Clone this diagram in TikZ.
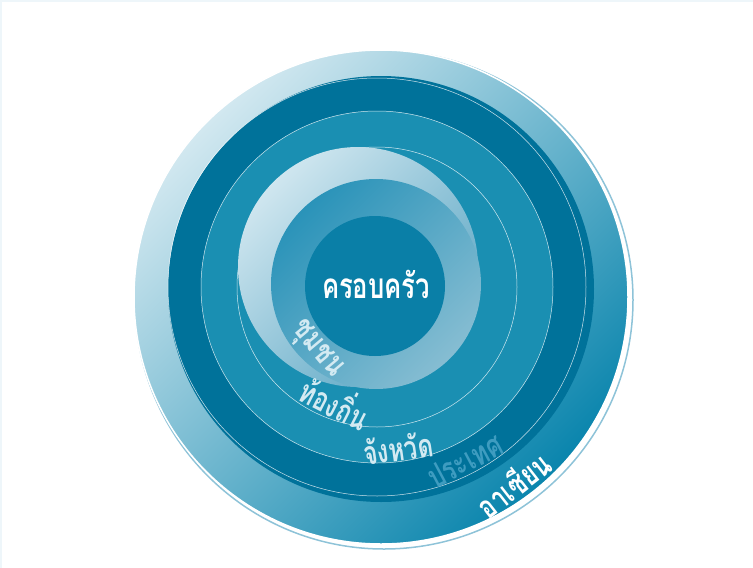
\documentclass[tikz,border=0pt]{standalone}
\usepackage{fontspec}
\newfontfamily\thaifont[Script=Thai]{Loma}

\definecolor{framepale}{HTML}{EEF6FA}
\definecolor{rimblue}{HTML}{8EC3D8}
\definecolor{bandlight}{HTML}{D2E8F0}
\definecolor{banddeep}{HTML}{0A85AD}
\definecolor{ringdark}{HTML}{00729A}
\definecolor{ringmid}{HTML}{1A8FB2}
\definecolor{ringcore}{HTML}{0A7FA7}
\definecolor{ringpale}{HTML}{CFE6EF}
\definecolor{ringsoft}{HTML}{5AA6C4}
\definecolor{diskmid}{HTML}{2A93B9}
\definecolor{disksoft}{HTML}{86BDD2}
\definecolor{labelpale}{HTML}{D3EAF2}
\definecolor{labelfaint}{HTML}{3E9CC0}

% taller Thai glyphs, as in the reference
\newcommand{\tallthai}[1]{\scalebox{0.95}[1.3]{#1}}

\tikzset{
  ringline/.style={draw=white, line width=0.5pt, draw opacity=0.8},
  ringlabel/.style={font=\thaifont\bfseries\fontsize{25}{25}\selectfont, text=#1, inner sep=0pt},
  diag/.style 2 args={top color=#1, bottom color=#2, shading angle=45},
}

\begin{document}
\begin{tikzpicture}[x=1pt,y=-1pt]
    \useasboundingbox (0,0) rectangle (753,568);

    % Faint frame at the top and left
    \draw[framepale, line width=2pt] (753,1) -- (1,1) -- (1,568);

    % Outer band with its rim
    \draw[rimblue, line width=1.5pt] (384,300) circle (249pt);
    \shade[draw=white, line width=1.5pt, diag={bandlight}{banddeep}] (381,297) circle (247pt);

    % Dark band
    \fill[ringdark] (381,289) circle (213pt);
    \draw[ringline] (377,287) circle (209pt);

    % Middle bands
    \filldraw[ringmid, ringline] (377,287) circle (176pt);
    \filldraw[ringmid, ringline] (377,287) circle (140pt);

    % Light ring and inner disks
    \shade[diag={ringpale}{ringsoft}] (358,267) circle (120pt);
    \shade[diag={diskmid}{disksoft}] (376,284) circle (105pt);
    \fill[ringcore] (375,286) circle (70pt);

    % Labels
    \node[ringlabel=white, font=\thaifont\bfseries\fontsize{27}{27}\selectfont] (family) at (376,284) {\tallthai{ครอบครัว}};
    \node[ringlabel=labelpale, rotate=-50] (community) at (316,350) {\tallthai{ชุมชน}};
    \node[ringlabel=labelpale, rotate=-27] (local) at (336,401) {\tallthai{ท้องถิ่น}};
    \node[ringlabel=labelpale, rotate=8] (province) at (398,448) {\tallthai{จังหวัด}};
    \node[ringlabel=labelfaint, rotate=28] (country) at (465,461) {\tallthai{ประเทศ}};
    \node[ringlabel=white, rotate=38] (asean) at (513,484) {\tallthai{อาเซียน}};

\end{tikzpicture}
\end{document}
